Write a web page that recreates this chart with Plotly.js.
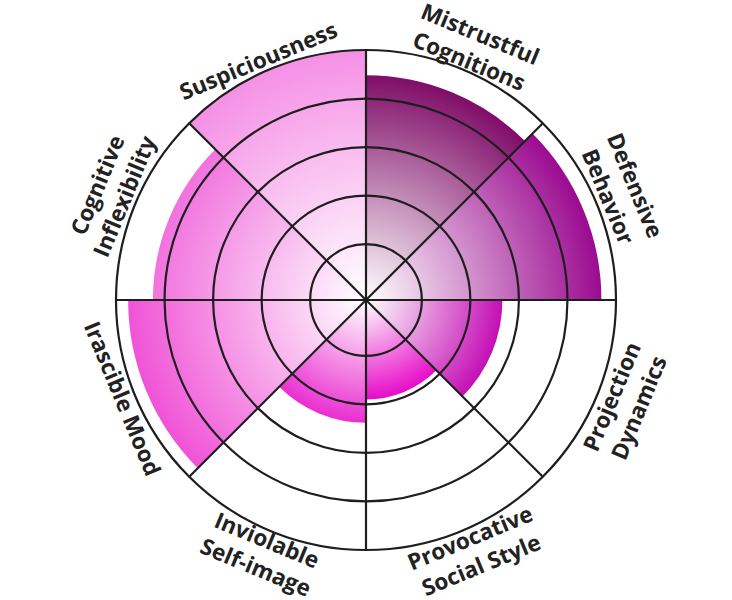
<!DOCTYPE html>
<html>
<head>
<meta charset="utf-8">
<script src="https://cdn.plot.ly/plotly-3.0.1.min.js"></script>
<style>html,body{margin:0;padding:0;background:#fff;}#chart{width:732px;height:600px;}</style>
</head>
<body>
<div id="chart"></div>
<script>
// ---- data ----
const categories = ['Mistrustful<br>Cognitions','Defensive<br>Behavior','Projection<br>Dynamics','Provocative<br>Social Style','Inviolable<br>Self-image','Irascible Mood','Cognitive<br>Inflexibility','Suspiciousness'];
const values = [4.48, 4.70, 2.66, 1.90, 2.38, 4.75, 4.24, 5.0];
const colors = ['#800d68','#9b0b90','#c40fb4','#e60cc8','#ea2ed0','#f053d6','#f272de','#f590e5'];
const radialTicks = [1, 2, 3, 4];
const radialRange = [-0.15, 5];

// ---- layout geometry ----
const W = 732, H = 600;
const M = {l: 116, r: 116, t: 50, b: 50};
const plotW = W - M.l - M.r, plotH = H - M.t - M.b;
const CX = M.l + plotW / 2, CY = M.t + plotH / 2, R = Math.min(plotW, plotH) / 2;
const sector = 360 / categories.length;
const theta = categories.map((c, i) => i * sector + sector / 2);
// label distance beyond the outer circle, and small angular nudges
const labelGap = [25, 28, 28, 24, 24, 12, 28, 13];
const labelNudge = [0.8, -0.5, -1, -1, 0, 0.5, 0.8, -1.8];

const trace = {
  type: 'barpolar',
  r: values,
  theta: theta,
  width: categories.map(() => sector),
  marker: {color: colors, line: {width: 0}},
  hoverinfo: 'skip'
};

const annotations = categories.map((c, i) => {
  const a = theta[i] + labelNudge[i];
  const rr = R + labelGap[i];
  const rad = a * Math.PI / 180;
  const px = CX + rr * Math.sin(rad);
  const py = CY - rr * Math.cos(rad);
  let ang = theta[i];
  if (ang > 90 && ang < 270) ang = ang - 180;
  if (ang > 180) ang -= 360;
  return {
    text: c, showarrow: false,
    xref: 'paper', yref: 'paper',
    x: (px - M.l) / plotW, y: 1 - (py - M.t) / plotH,
    xanchor: 'center', yanchor: 'middle',
    textangle: ang, borderpad: 0,
    font: {family: 'Open Sans, sans-serif', size: 22.5, color: '#222222', weight: 'bold'}
  };
});

const layout = {
  width: W, height: H,
  margin: M,
  paper_bgcolor: '#ffffff',
  showlegend: false,
  annotations: annotations,
  polar: {
    domain: {x: [0, 1], y: [0, 1]},
    bgcolor: '#ffffff',
    radialaxis: {
      range: radialRange, tickvals: radialTicks, showticklabels: false, ticks: '',
      showline: false, gridcolor: '#1e1e1e', gridwidth: 2.2, layer: 'above traces'
    },
    angularaxis: {
      direction: 'clockwise', rotation: 90, tickmode: 'linear', tick0: 0, dtick: sector,
      showticklabels: false, ticks: '', gridcolor: '#1e1e1e', gridwidth: 2.2,
      showline: true, linecolor: '#1e1e1e', linewidth: 2.2, layer: 'above traces'
    }
  }
};

const gd = document.getElementById('chart');
Plotly.newPlot(gd, [trace], layout, {staticPlot: true, displayModeBar: false}).then(applyStyling);

function applyStyling() {
  const ns = 'http://www.w3.org/2000/svg';
  const svg = gd.querySelector('svg.main-svg');
  let defs = svg.querySelector('defs');
  if (!defs) { defs = document.createElementNS(ns, 'defs'); svg.insertBefore(defs, svg.firstChild); }
  const rect = svg.getBoundingClientRect();
  const nodes = gd.querySelectorAll('.barlayer .point');
  nodes.forEach((n, i) => {
    const p = n.tagName.toLowerCase() === 'path' ? n : n.querySelector('path');
    if (!p) return;
    const pt = svg.createSVGPoint();
    pt.x = rect.left + CX; pt.y = rect.top + CY;
    const loc = pt.matrixTransform(p.getScreenCTM().inverse());
    const rpx = (values[i] - radialRange[0]) / (radialRange[1] - radialRange[0]) * R;
    const g = document.createElementNS(ns, 'radialGradient');
    g.setAttribute('id', 'barGrad' + i);
    g.setAttribute('gradientUnits', 'userSpaceOnUse');
    g.setAttribute('cx', loc.x); g.setAttribute('cy', loc.y);
    g.setAttribute('fx', loc.x); g.setAttribute('fy', loc.y);
    g.setAttribute('r', rpx);
    const s0 = document.createElementNS(ns, 'stop');
    s0.setAttribute('offset', '0'); s0.setAttribute('stop-color', '#ffffff');
    const s1 = document.createElementNS(ns, 'stop');
    s1.setAttribute('offset', '1'); s1.setAttribute('stop-color', colors[i]);
    g.appendChild(s0); g.appendChild(s1);
    defs.appendChild(g);
    p.style.fill = 'url(#barGrad' + i + ')';
  });
  // bring polar grid layers above the bars
  const front = gd.querySelector('.barlayer');
  ['.radial-grid', '.angular-grid'].forEach(sel => {
    const el = gd.querySelector(sel);
    if (!el) return;
    let anc = front;
    while (anc && anc.parentNode !== el.parentNode) anc = anc.parentNode;
    if (anc) el.parentNode.insertBefore(el, anc.nextSibling);
    else el.parentNode.appendChild(el);
  });
  const line = gd.querySelector('.angular-line');
  if (line) line.parentNode.appendChild(line);
}
</script>
</body>
</html>
